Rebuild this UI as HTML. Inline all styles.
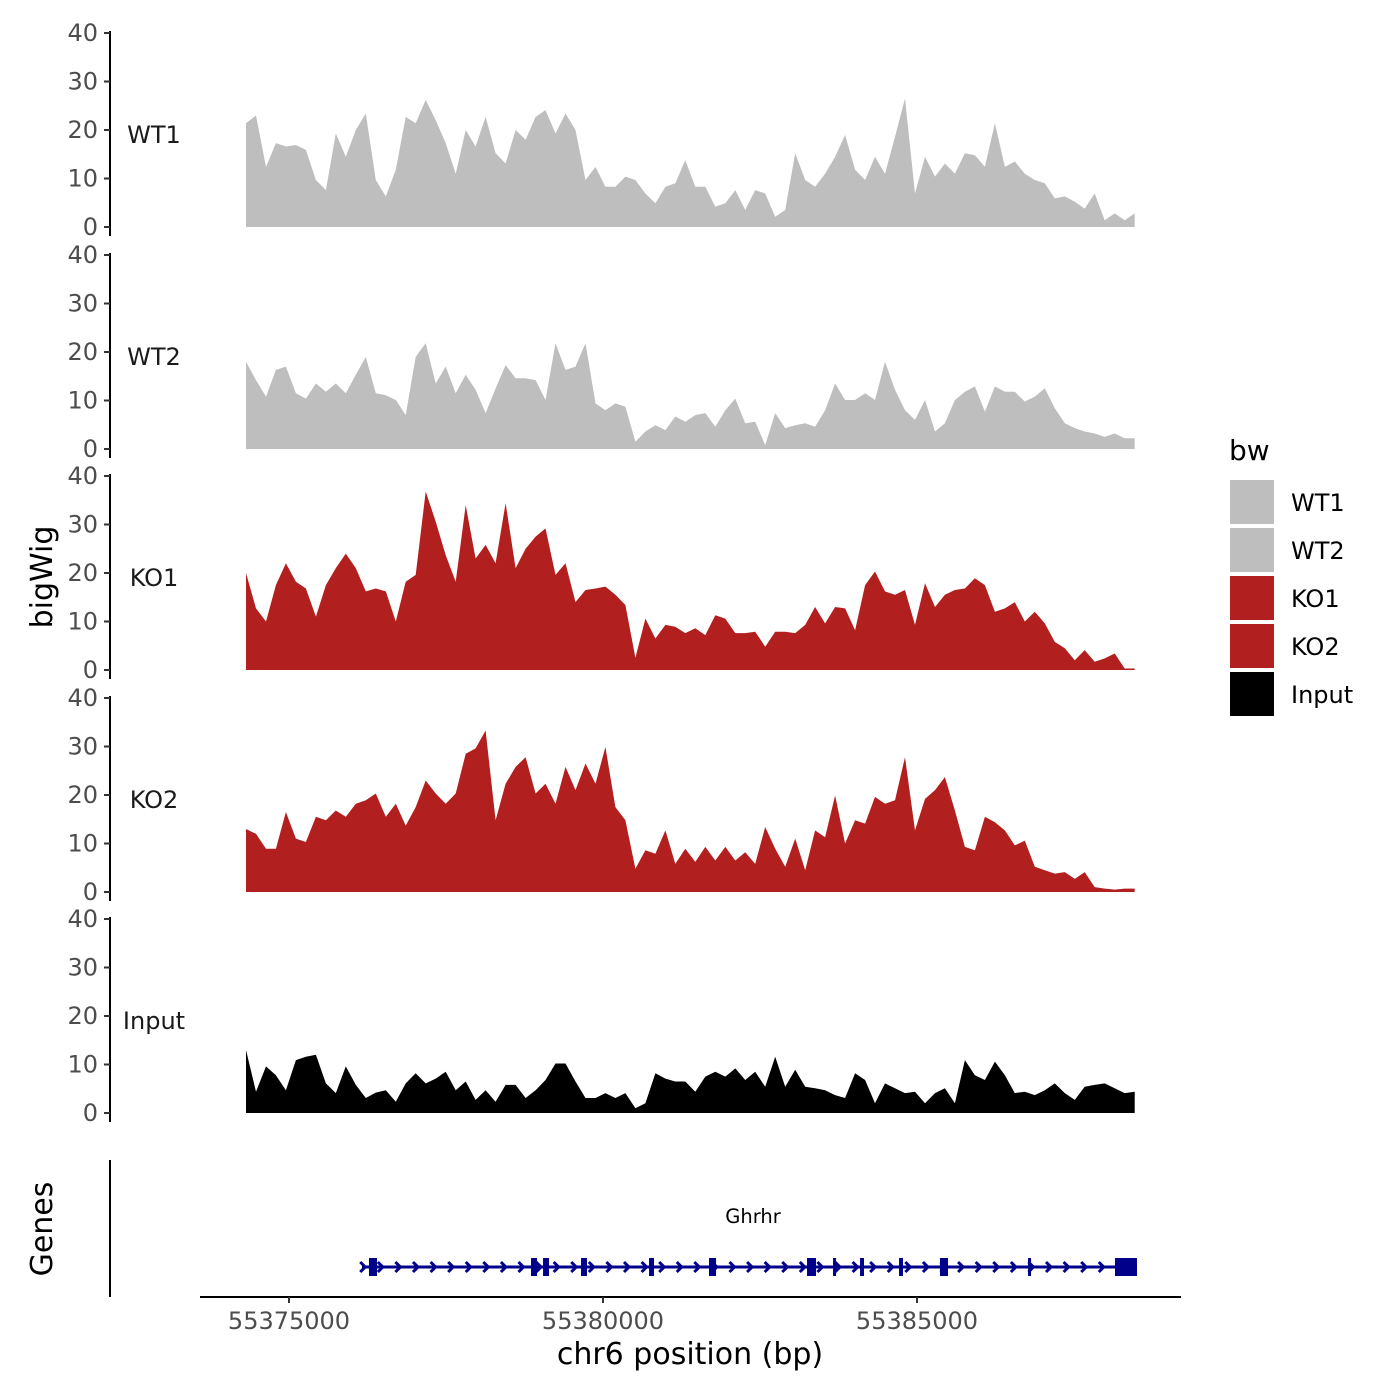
<!DOCTYPE html>
<html><head><meta charset="utf-8"><style>
html,body{margin:0;padding:0;background:#fff;}
svg{display:block;font-family:"DejaVu Sans","Liberation Sans",sans-serif;}
</style></head><body>
<svg id="chart" width="1400" height="1400" viewBox="0 0 1400 1400" xmlns="http://www.w3.org/2000/svg"></svg>
<script>
// ---- data ----
const binStart = 55374315;
const binSize = 159;
const trackNames = ["WT1","WT2","KO1","KO2","Input"];
const trackColors = ["#bebebe","#bebebe","#b21f1f","#b21f1f","#000000"];
const wt1 = [21.4,23,12.4,17.3,16.6,16.9,15.9,9.7,7.6,19.3,14.5,20,23.4,9.7,6.3,11.8,22.7,21.4,26.2,22,17.3,11,20,16.6,22.7,15.2,13.1,20,18,22.7,24.1,19.3,23.4,20,9.7,12.4,8.3,8.3,10.4,9.7,6.9,4.9,8.3,9,13.8,
 8.3,8.3,4.2,4.9,7.6,3.5,7.6,6.9,2.1,3.5,15.2,9.7,8.3,11,14.5,19,11.8,9.7,14.5,11,18.6,26.5,6.9,14.5,10.4,13.1,11,15.2,14.8,12.4,21.4,12.4,13.5,11,9.7,9,5.9,6.3,5.2,3.8,6.9,1.4,2.8,1.4,2.8];
const wt2 = [18,14.2,10.8,16.3,17,11.5,10.4,13.5,11.8,13.5,11.5,15.3,19,11.5,11.1,10.1,7,19,21.8,13.5,17,11.5,15.3,12.2,7.4,12.5,17.3,14.6,14.6,14.2,10.1,21.8,16.3,17,21.8,9.4,8,9.4,8.7,1.5,3.6,4.9,3.9,6.7,5.6,
 7,7.4,4.6,8,10.4,5.3,5.6,0.8,7.4,4.3,4.9,5.3,4.6,8,13.5,10.1,10.1,11.5,10.1,18,12.2,8,6,10.1,3.6,5.3,10.1,11.8,12.9,7.7,12.9,11.8,11.8,9.8,10.8,12.5,8.4,5.3,4.3,3.6,3.2,2.5,3.2,2.2,2.2];
const ko1 = [20,12.7,10,17.5,22,18.2,16.8,11,17.5,21,24,21,16.2,16.8,16.2,10,18.2,19.6,36.8,30.6,23.7,18.2,34,23,25.8,22,34.4,21,25,27.5,29.2,19.6,22,14,16.5,16.8,17.2,15.5,13.4,2.5,10.6,6.5,9.3,8.9,7.6,
 8.6,7.2,11.3,10.6,7.6,7.6,7.9,4.8,7.9,7.9,7.6,9.3,13,9.6,13,12.7,8.2,17.5,20.3,16.2,15.5,16.5,9.3,17.9,13,15.5,16.5,16.8,18.9,17.5,12,12.7,14,10,12,9.6,5.8,4.5,2,4.1,1.7,2.4,3.4,0.3,0.3];
const ko2 = [13,12,8.9,8.9,16.5,11,10.3,15.5,14.8,16.8,15.5,18.2,18.9,20.3,15.5,18.2,13.7,17.5,23,20.3,18.2,20.3,28.5,29.6,33.3,14.8,22.3,25.8,27.8,20.3,22.3,18.2,25.8,21,26.5,22.3,29.9,17.5,14.8,4.8,8.6,7.9,12.7,5.8,8.9,
 6.2,9.3,6.5,9.3,6.5,8.2,5.8,13.4,8.9,5.2,11,4.5,12.7,11.3,19.9,10,14.8,14.1,19.6,18.2,18.9,27.8,12.7,19.2,21,23.7,16.8,9.3,8.6,15.5,14.4,12.7,9.6,10.6,5.2,4.5,3.8,4.1,2.7,4.1,1,0.7,0.5,0.7,0.7];
const input = [13,4.4,9.6,7.8,4.7,10.9,11.6,12,6.1,4.1,9.6,5.8,3.1,4.2,4.7,2.3,6.1,8.2,6.1,7.1,8.5,4.7,6.5,2.7,4.7,2.3,5.8,5.8,3.1,4.7,6.8,10.2,10.2,6.5,3.1,3.1,4.1,3.1,4.1,1,2,8.2,7.1,6.5,6.5,
 4.4,7.5,8.5,7.5,9.2,6.8,8.5,5.4,11.6,5.4,8.9,5.4,5.1,4.7,3.7,3.1,8.2,6.8,2,6.1,5.1,4.1,4.4,2,4.1,5.1,2,10.9,7.8,6.8,10.6,7.8,4.1,4.4,3.7,4.7,6.1,4.1,2.7,5.4,5.8,6.1,5.1,4.1,4.4];
const trackValues = [wt1,wt2,ko1,ko2,input];
const yTicks = [0,10,20,30,40];
const xTicks = [55375000,55380000,55385000];
const xTickLabels = ["55375000","55380000","55385000"];
const geneName = "Ghrhr";
const geneStart = 55376162, geneEnd = 55388503;
const exonStarts = [55376274,55378854,55379045,55379650,55380733,55381688,55383249,55383663,55384093,55384714,55385366,55386768,55388153];
const exonEnds   = [55376401,55378949,55379140,55379745,55380812,55381800,55383392,55383710,55384156,55384777,55385494,55386816,55388503];
const legendLabels = ["WT1","WT2","KO1","KO2","Input"];

// ---- scales ----
const NS="http://www.w3.org/2000/svg";
const svg=document.getElementById('chart');
function xs(bp){return 289+(bp-55375000)*0.0628;}
const panelZero=[227,449,670,892,1113];
function ys(i,v){return panelZero[i]-v*4.85;}
function mk(tag,attrs,parent){const e=document.createElementNS(NS,tag);for(const k in attrs)e.setAttribute(k,attrs[k]);(parent||svg).appendChild(e);return e;}

// ---- tracks ----
trackValues.forEach((vals,i)=>{
  const g=mk('g',{});
  
  
  let d='M'+xs(binStart).toFixed(1)+','+ys(i,0);
  vals.forEach((v,j)=>{d+=' L'+xs(binStart+j*binSize).toFixed(1)+','+ys(i,v).toFixed(1);});
  d+=' L'+xs(binStart+(vals.length-1)*binSize).toFixed(1)+','+ys(i,0)+' Z';
  const p=mk('path',{d:d,fill:trackColors[i],stroke:'none'},g);
  
  
  const ax=mk('line',{x1:110,x2:110,y1:ys(i,40)-2,y2:ys(i,0)+9,stroke:'#000','stroke-width':2},g);
  
  
  yTicks.forEach(t=>{
    const tk=mk('line',{x1:104,x2:110,y1:ys(i,t),y2:ys(i,t),stroke:'#333','stroke-width':2},g);
    
    
    const tl=mk('text',{x:98,y:ys(i,t)+8,'text-anchor':'end','font-size':24,fill:'#4d4d4d'},g);
    tl.textContent=t;
    
    
  });
  const lab=mk('text',{x:154,y:ys(i,19)+8,'text-anchor':'middle','font-size':24,fill:'#1a1a1a'},g);
  lab.textContent=trackNames[i];
  
  
});

// ---- genes panel ----
const gg=mk('g',{});


const gax=mk('line',{x1:110,x2:110,y1:1160,y2:1297,stroke:'#000','stroke-width':2},gg);


const gl=mk('line',{x1:xs(geneStart),x2:xs(geneEnd),y1:1267,y2:1267,stroke:'#00008b','stroke-width':3},gg);


for(let bp=geneStart+20;bp<geneEnd-150;bp+=280){
  const x=xs(bp);
  const c=mk('path',{d:`M${x-3},${1262} L${x+2},${1267} L${x-3},${1272}`,fill:'none',stroke:'#00008b','stroke-width':3},gg);
  
  
}
exonStarts.forEach((s,k)=>{
  const x1=xs(s),x2=xs(exonEnds[k]);
  const r=mk('rect',{x:x1,y:1258,width:Math.max(3,x2-x1),height:18,fill:'#00008b'},gg);
  
  
});
const gt=mk('text',{x:753,y:1223,'text-anchor':'middle','font-size':19.5,fill:'#000'},gg);
gt.textContent=geneName;



// ---- x axis ----
const xa=mk('line',{x1:200,x2:1181,y1:1297,y2:1297,stroke:'#000','stroke-width':2});


xTicks.forEach((t,k)=>{
  const tk=mk('line',{x1:xs(t),x2:xs(t),y1:1297,y2:1303,stroke:'#333','stroke-width':2});
  
  
  const tl=mk('text',{x:xs(t),y:1329,'text-anchor':'middle','font-size':24,fill:'#4d4d4d'});
  tl.textContent=xTickLabels[k];
  
  
});
const xt=mk('text',{x:690,y:1364,'text-anchor':'middle','font-size':30,fill:'#000'});
xt.textContent='chr6 position (bp)';


const yt=mk('text',{x:0,y:0,'text-anchor':'middle','font-size':30,fill:'#000',transform:'translate(52,577) rotate(-90)'});
yt.textContent='bigWig';


const gyt=mk('text',{x:0,y:0,'text-anchor':'middle','font-size':30,fill:'#000',transform:'translate(52,1229) rotate(-90)'});
gyt.textContent='Genes';



// ---- legend ----
const lg=mk('g',{});


const ltitle=mk('text',{x:1229,y:460,'font-size':28,fill:'#000'},lg);
ltitle.textContent='bw';


legendLabels.forEach((l,k)=>{
  const y=480+k*48;
  const r=mk('rect',{x:1230,y:y,width:44,height:44,fill:trackColors[k]},lg);
  
  
  const t=mk('text',{x:1291,y:y+31,'font-size':24,fill:'#000'},lg);
  t.textContent=l;
  
  
});
</script>
</body></html>
